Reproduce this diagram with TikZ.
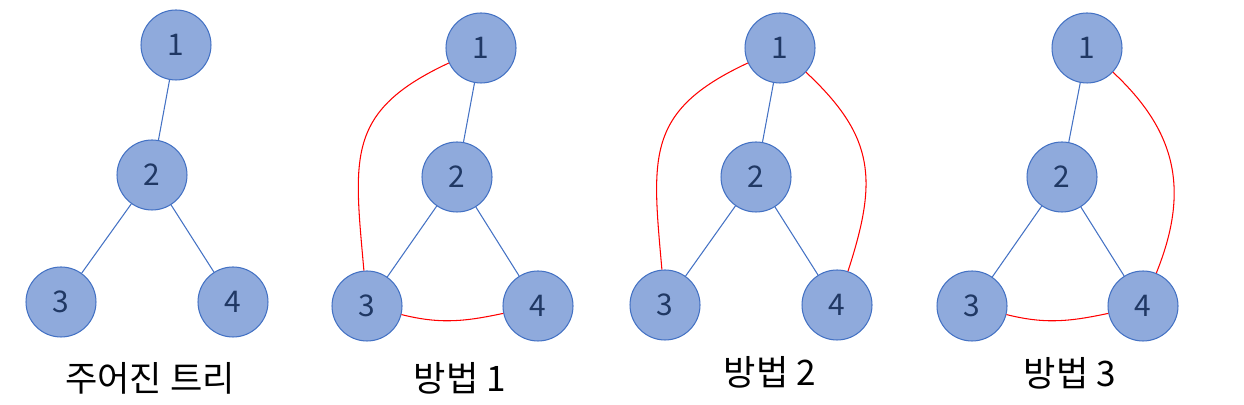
\documentclass[tikz,border=0pt]{standalone}
\usepackage{fontspec}
\setmainfont{Noto Sans CJK KR}
\definecolor{nodefill}{HTML}{8FAADC}
\definecolor{nodeline}{HTML}{4472C4}
\definecolor{nodetext}{HTML}{203864}
\begin{document}
\begin{tikzpicture}[x=0.02cm, y=0.02cm, line width=0.6pt, main node/.style={circle,draw=nodeline,fill=nodefill,text=nodetext,minimum size=1.4cm,inner sep=0pt,font=\fontsize{17}{20}\selectfont}, tree edge/.style={draw=nodeline}, new edge/.style={draw=red}, caption/.style={font=\fontsize{20}{24}\selectfont}]
\useasboundingbox (0,0) rectangle (1244,405);
% given tree
\begin{scope}
\node[main node] (g1) at (176,360) {1};
\node[main node] (g2) at (152,230) {2};
\node[main node] (g3) at (61,103) {3};
\node[main node] (g4) at (233,103) {4};
\node[caption] (gl) at (150,27) {주어진 트리};
\draw[tree edge] (g1) edge (g2) (g2) edge (g3) (g2) edge (g4);
\end{scope}
% method 1
\begin{scope}
\node[main node] (a1) at (481,357) {1};
\node[main node] (a2) at (457,228) {2};
\node[main node] (a3) at (367,99) {3};
\node[main node] (a4) at (538,99) {4};
\node[caption] (al) at (460,27) {방법 1};
\draw[tree edge] (a1) edge (a2) (a2) edge (a3) (a2) edge (a4);
\draw[new edge] (a1) to[out=205,in=95,looseness=1.3] (a3);
\draw[new edge] (a3) to[out=-14,in=192] (a4);
\end{scope}
% method 2
\begin{scope}
\node[main node] (b1) at (780,357) {1};
\node[main node] (b2) at (756,228) {2};
\node[main node] (b3) at (665,100) {3};
\node[main node] (b4) at (837,100) {4};
\node[caption] (bl) at (770,33) {방법 2};
\draw[tree edge] (b1) edge (b2) (b2) edge (b3) (b2) edge (b4);
\draw[new edge] (b1) to[out=205,in=95,looseness=1.3] (b3);
\draw[new edge] (b1) to[out=-43,in=72,looseness=1.2] (b4);
\end{scope}
% method 3
\begin{scope}
\node[main node] (c1) at (1087,357) {1};
\node[main node] (c2) at (1062,228) {2};
\node[main node] (c3) at (972,99) {3};
\node[main node] (c4) at (1143,99) {4};
\node[caption] (cl) at (1070,32) {방법 3};
\draw[tree edge] (c1) edge (c2) (c2) edge (c3) (c2) edge (c4);
\draw[new edge] (c1) to[out=-43,in=68,looseness=1.1] (c4);
\draw[new edge] (c3) to[out=-14,in=192] (c4);
%\draw[new edge] (c) to (c);
\end{scope}
\end{tikzpicture}
\end{document}
